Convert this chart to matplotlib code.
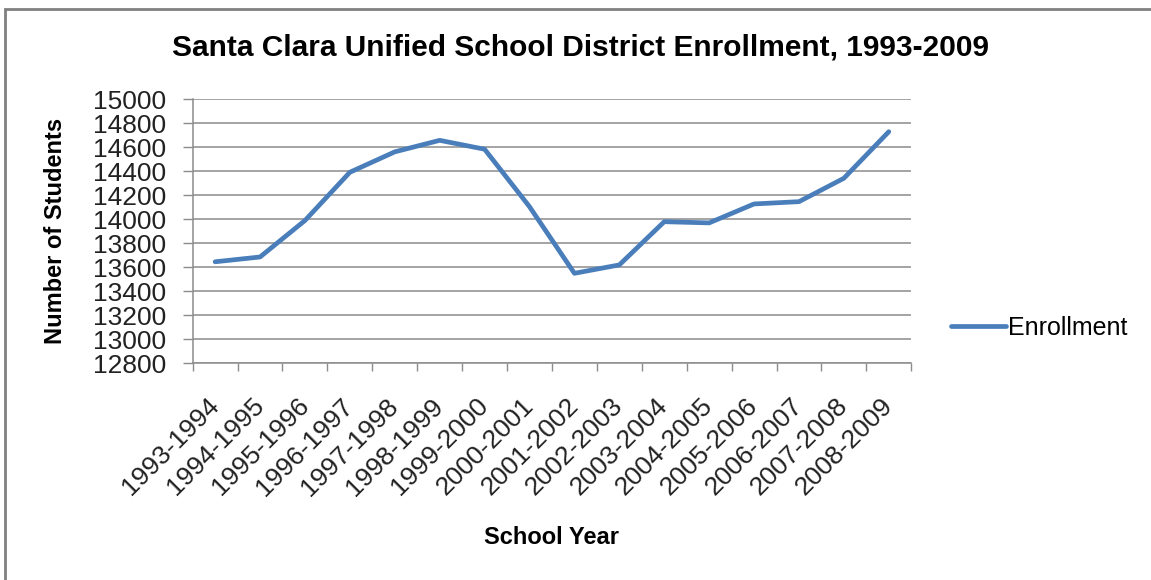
import matplotlib.pyplot as plt
from matplotlib.patches import Rectangle

# Enrollment by school year
years = ['1993-1994', '1994-1995', '1995-1996', '1996-1997', '1997-1998',
         '1998-1999', '1999-2000', '2000-2001', '2001-2002', '2002-2003',
         '2003-2004', '2004-2005', '2005-2006', '2006-2007', '2007-2008',
         '2008-2009']
enrollment = [13646, 13686, 13990, 14392, 14562, 14658, 14584, 14105,
              13550, 13620, 13980, 13970, 14128, 14147, 14342, 14730]
y_ticks = list(range(12800, 15001, 200))

plt.rcParams['font.family'] = ['Liberation Sans', 'DejaVu Sans']

fig = plt.figure(figsize=(11.51, 5.80), dpi=100)
ax = fig.add_axes([0.1674, 0.3736, 0.6243, 0.4552])

x = list(range(len(years)))
ax.plot(x, enrollment, color='#4A7EBB', linewidth=3.4, label='Enrollment',
        solid_capstyle='round', solid_joinstyle='round')

ax.set_xlim(-0.5, len(years) - 0.5)
ax.set_ylim(12800, 15000)
ax.set_yticks(y_ticks)
ax.set_yticklabels([str(v) for v in y_ticks], fontsize=19, color='#222222')
ax.yaxis.grid(True, color='#8c8c8c', linewidth=1.1)
ax.set_axisbelow(True)

# category ticks sit between categories
ax.set_xticks([i - 0.5 for i in range(len(years) + 1)], minor=False)
ax.set_xticklabels([])
ax.set_xticks(x, minor=True)
ax.set_xticklabels(years, minor=True, rotation=45, ha='right', va='center',
                   rotation_mode='anchor', fontsize=19, color='#222222')
ax.tick_params(axis='x', which='minor', length=0, pad=28)
ax.tick_params(axis='x', which='major', length=6, color='#8c8c8c', width=1)
ax.tick_params(axis='y', length=7, color='#8c8c8c', width=1, pad=12)

for side in ['top', 'right']:
    ax.spines[side].set_visible(False)
for side in ['left', 'bottom']:
    ax.spines[side].set_color('#8c8c8c')
    ax.spines[side].set_linewidth(1.1)

fig.text(0.5 * (168 + 993) / 1151, 1 - 48 / 580,
         'Santa Clara Unified School District Enrollment, 1993-2009',
         ha='center', va='center', fontsize=21.5, fontweight='bold')
fig.text(56 / 1151, 1 - 231 / 580, 'Number of Students', rotation=90,
         ha='center', va='center', fontsize=17, fontweight='bold')
fig.text(552 / 1151, 1 - 538 / 580, 'School Year',
         ha='center', va='center', fontsize=17, fontweight='bold')

ax.legend(loc='center left', bbox_to_anchor=(951 / 1151, 1 - 328 / 580),
          bbox_transform=fig.transFigure, frameon=False, fontsize=18,
          handlelength=2.2, handletextpad=0.1, borderaxespad=0,
          borderpad=0)

# outer chart border
fig.patches.append(Rectangle((5 / 1151, -0.05), 1.2, 1 - 9 / 580 + 0.05,
                             transform=fig.transFigure, fill=False,
                             edgecolor='#808080', linewidth=2))

fig.savefig('out.png', dpi=100)
